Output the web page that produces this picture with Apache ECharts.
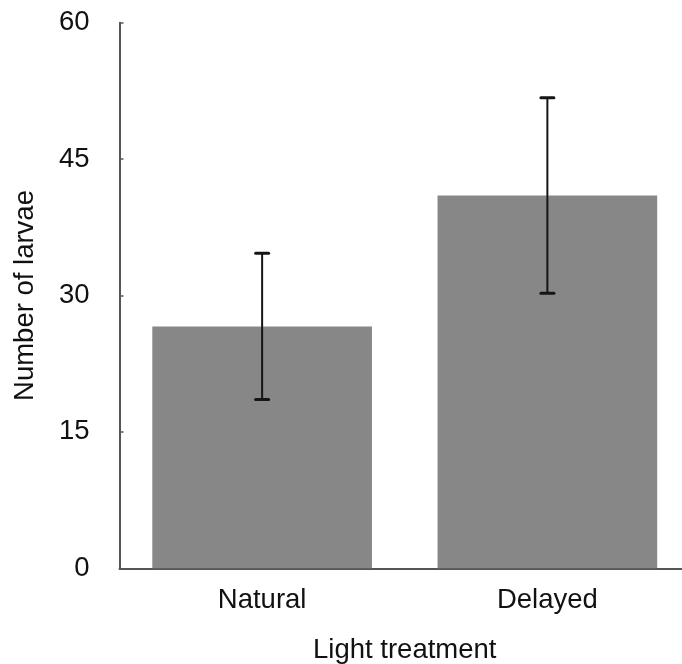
<!DOCTYPE html>
<html>
<head>
<meta charset="utf-8">
<script src="https://cdn.jsdelivr.net/npm/echarts@6/dist/echarts.min.js"></script>
<style>
  html, body { margin: 0; padding: 0; background: #fff; }
  #chart { width: 682px; height: 664px; }
</style>
</head>
<body>
<div id="chart"></div>
<script>
// Mean number of larvae per light treatment, with error (±) per bar
const categories = ['Natural', 'Delayed'];
const meanLarvae = [26.6, 41.0];
const errLarvae = [8.05, 10.75];
const yTicks = [0, 15, 30, 45, 60];

const FONT = '"Liberation Sans", Arial, Helvetica, sans-serif';
const TEXT = '#111';
const SIZE = 27.5;

const chart = echarts.init(document.getElementById('chart'), null, { renderer: 'canvas' });

const errorData = categories.map((c, i) => [i, meanLarvae[i] - errLarvae[i], meanLarvae[i] + errLarvae[i]]);

chart.setOption({
  animation: false,
  backgroundColor: '#ffffff',
  grid: { left: 119.5, right: -8, top: 22.7, bottom: 95.7, outerBoundsMode: 'none', containLabel: false },
  xAxis: {
    type: 'category',
    data: categories,
    name: 'Light treatment',
    nameLocation: 'middle',
    nameGap: 68,
    nameTextStyle: { fontFamily: FONT, fontSize: SIZE, color: TEXT },
    axisLine: { lineStyle: { color: '#555', width: 2 } },
    axisTick: { show: false },
    axisLabel: { fontFamily: FONT, fontSize: SIZE, color: TEXT, margin: 18 },
    splitLine: { show: false }
  },
  yAxis: {
    type: 'value',
    min: yTicks[0],
    max: yTicks[yTicks.length - 1],
    interval: 15,
    name: 'Number of larvae',
    nameLocation: 'middle',
    nameGap: 80,
    nameTextStyle: { fontFamily: FONT, fontSize: SIZE, color: TEXT },
    axisLine: { show: true, lineStyle: { color: '#555', width: 2 } },
    axisTick: { show: true, inside: true, length: 4, lineStyle: { color: '#555', width: 1.5 } },
    axisLabel: { fontFamily: FONT, fontSize: SIZE, color: TEXT, margin: 30 },
    splitLine: { show: false }
  },
  series: [
    {
      type: 'bar',
      data: meanLarvae,
      barWidth: '77%',
      itemStyle: { color: '#878787' },
      z: 2
    },
    {
      type: 'custom',
      data: errorData,
      z: 5,
      renderItem: function (params, api) {
        const x = api.value(0);
        const lo = api.coord([x, api.value(1)]);
        const hi = api.coord([x, api.value(2)]);
        const half = 6.5;
        const style = { stroke: '#151515', lineWidth: 2 };
        const capStyle = { stroke: '#151515', lineWidth: 3, lineCap: 'round' };
        return {
          type: 'group',
          children: [
            { type: 'line', shape: { x1: hi[0], y1: hi[1], x2: lo[0], y2: lo[1] }, style: style },
            { type: 'line', shape: { x1: hi[0] - half, y1: hi[1], x2: hi[0] + half, y2: hi[1] }, style: capStyle },
            { type: 'line', shape: { x1: lo[0] - half, y1: lo[1], x2: lo[0] + half, y2: lo[1] }, style: capStyle }
          ]
        };
      }
    }
  ]
});
</script>
</body>
</html>
